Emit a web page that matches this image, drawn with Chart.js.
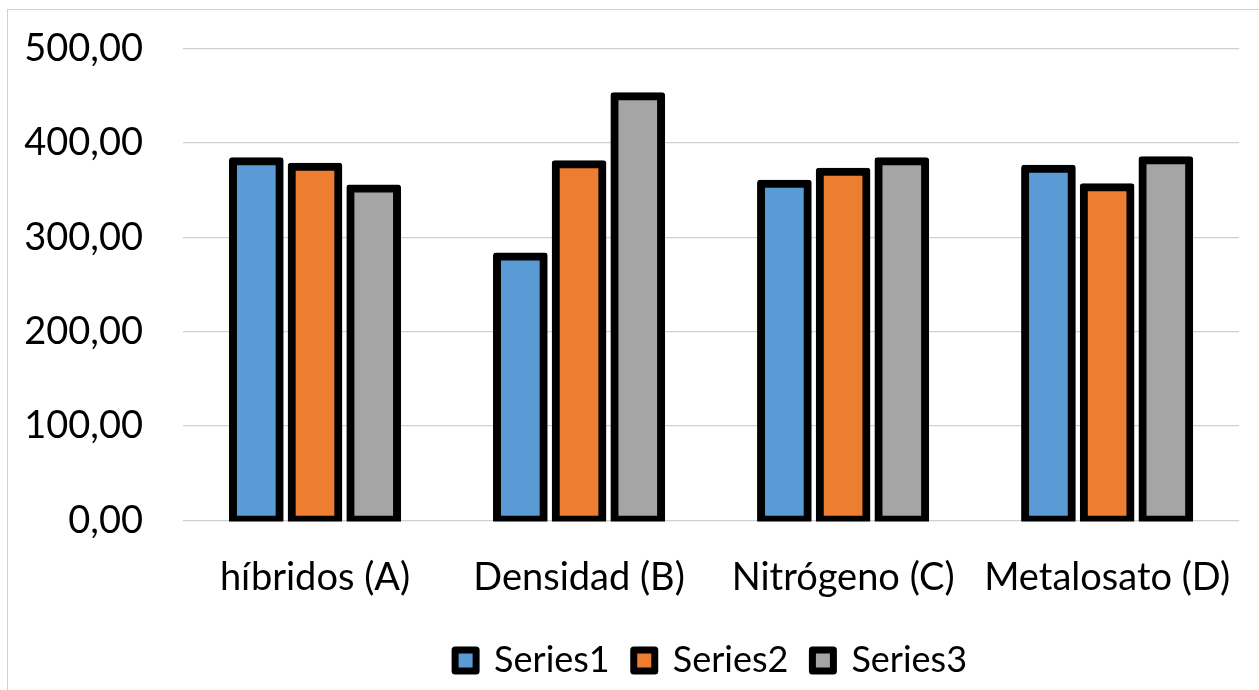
<!DOCTYPE html>
<html>
<head>
<meta charset="utf-8">
<script src="https://cdn.jsdelivr.net/npm/chart.js@4"></script>
<style>
  body { margin: 0; background: #fff; overflow: hidden; }
  #marco { position: absolute; left: 7px; top: 9px; width: 1300px; height: 700px; border: 1px solid #d0d0d0; }
  #grafico { position: absolute; left: 0; top: 0; }
</style>
</head>
<body>
<div id="marco"></div>
<canvas id="grafico" width="1259" height="690"></canvas>
<script>
const categorias = ['híbridos (A)', 'Densidad (B)', 'Nitrógeno (C)', 'Metalosato (D)'];
const serie1 = [380.5, 279.7, 356.7, 372.6];
const serie2 = [374.8, 377.3, 369.5, 353.1];
const serie3 = [351.7, 449.5, 380.6, 381.7];
const nomesSeries = ['Series1', 'Series2', 'Series3'];
const cores = ['#5B9BD5', '#ED7D31', '#A5A5A5'];

const fonte = 'Lato, "Noto Sans", sans-serif';

function criarSerie(i, dados) {
  return {
    label: nomesSeries[i],
    data: dados,
    backgroundColor: cores[i],
    borderColor: '#000000',
    borderWidth: 8,
    borderSkipped: false,
    borderRadius: 3,
    inflateAmount: 4,
    categoryPercentage: 0.667,
    barPercentage: 0.795,
    clip: { left: false, top: false, right: false, bottom: 1 }
  };
}

const ctx = document.getElementById('grafico').getContext('2d');
new Chart(ctx, {
  type: 'bar',
  data: {
    labels: categorias,
    datasets: [criarSerie(0, serie1), criarSerie(1, serie2), criarSerie(2, serie3)]
  },
  options: {
    responsive: false,
    animation: false,
    layout: { padding: { left: 0, right: 19, top: 48.5, bottom: 1.5 } },
    scales: {
      y: {
        min: 0,
        max: 500,
        ticks: {
          stepSize: 100,
          padding: 3,
          color: '#000',
          font: { family: fonte, size: 38 },
          callback: v => v.toFixed(2).replace('.', ',')
        },
        // marca invisível só para afastar os rótulos da área do gráfico
        grid: { color: '#d0d0d0', lineWidth: 1.3, drawTicks: true, tickLength: 37, tickColor: 'rgba(0,0,0,0)' },
        border: { display: false },
        afterFit: scale => { scale.width = 183; }
      },
      x: {
        ticks: {
          padding: 26.5,
          color: '#000',
          font: { family: fonte, size: 38 }
        },
        grid: { display: false },
        border: { display: false },
        afterFit: scale => { scale.height = 98; }
      }
    },
    plugins: {
      legend: {
        position: 'bottom',
        fullSize: false,
        labels: {
          color: '#000',
          font: { family: fonte, size: 36 },
          boxWidth: 21,
          boxHeight: 21,
          padding: 24,
          generateLabels: chart =>
            Chart.defaults.plugins.legend.labels.generateLabels(chart)
              .map(l => ({ ...l, lineWidth: 7, lineJoin: 'round' }))
        }
      },
      tooltip: { enabled: false }
    }
  }
});
</script>
</body>
</html>
